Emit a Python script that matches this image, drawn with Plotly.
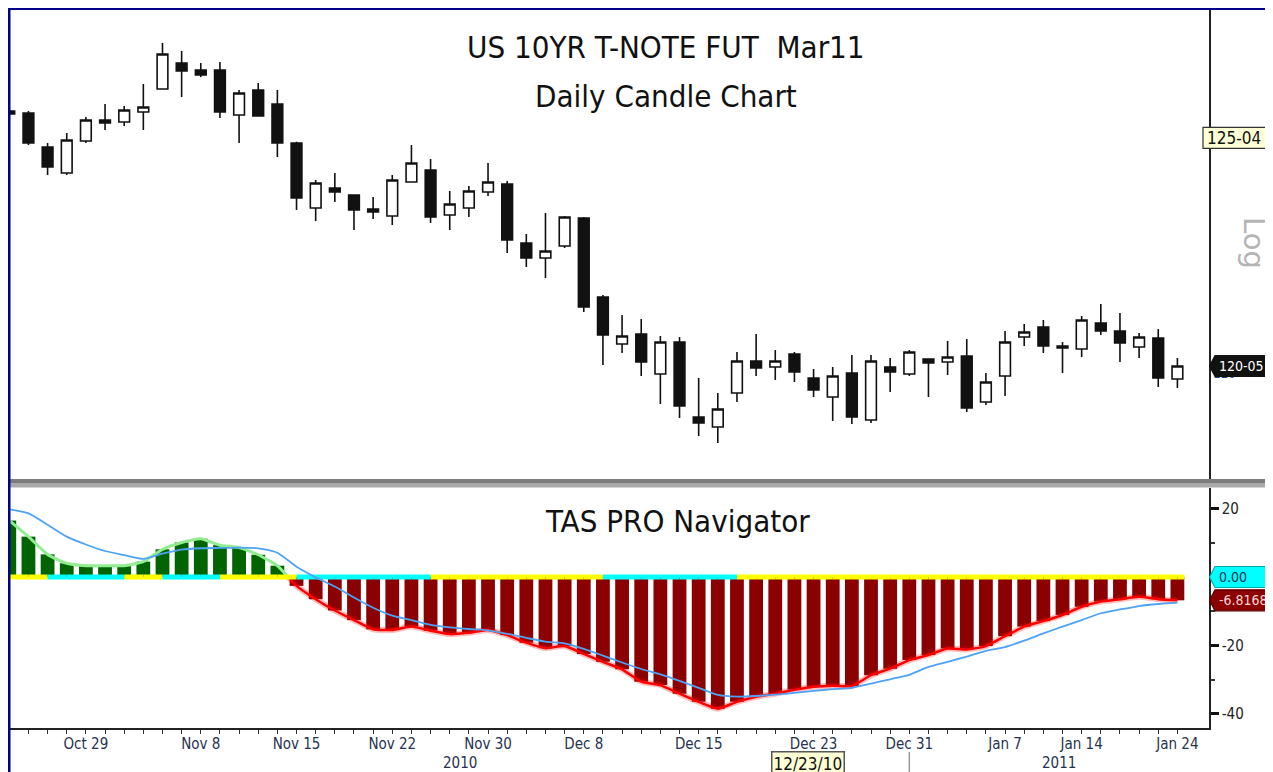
import plotly.graph_objects as go

# ---------------- data ----------------
open_ = [125.712, 125.668, 124.927, 124.361, 125.058, 125.516, 125.472, 125.690, 126.191, 126.758,
         126.605, 126.605, 125.625, 126.169, 125.864, 125.015, 123.598, 124.034, 123.882, 123.577,
         123.424, 124.165, 124.426, 123.446, 123.598, 123.947, 124.121, 122.836, 122.509, 122.771,
         123.381, 121.659, 120.635, 120.853, 119.982, 120.679, 119.045, 118.827, 119.568, 120.265,
         120.134, 120.418, 119.895, 119.481, 120.004, 118.980, 120.134, 119.982, 120.309, 120.243,
         120.374, 119.372, 119.938, 120.788, 121.006, 120.592, 120.527, 121.093, 120.919, 120.570,
         120.766, 119.873]
high = [125.777, 125.712, 125.015, 125.232, 125.581, 125.864, 125.821, 126.300, 127.193, 127.019,
        126.758, 126.779, 126.169, 126.322, 126.169, 125.040, 124.208, 124.361, 123.900, 123.838,
        124.317, 124.971, 124.666, 123.969, 124.078, 124.579, 124.187, 123.032, 123.490, 123.424,
        123.402, 121.703, 121.267, 121.180, 120.810, 120.788, 119.895, 119.568, 120.461, 120.853,
        120.505, 120.461, 120.091, 120.134, 120.396, 120.396, 120.330, 120.505, 120.320, 120.701,
        120.744, 120.004, 120.919, 121.071, 121.158, 120.679, 121.246, 121.507, 121.311, 120.875,
        120.962, 120.330]
low = [125.581, 124.971, 124.317, 124.317, 125.015, 125.298, 125.385, 125.298, 126.180, 126.017,
       126.452, 125.559, 125.015, 125.590, 124.710, 123.555, 123.315, 123.729, 123.119, 123.359,
       123.228, 124.150, 123.272, 123.119, 123.402, 123.860, 122.618, 122.313, 122.073, 122.727,
       121.333, 120.178, 120.439, 119.938, 119.328, 119.023, 118.631, 118.479, 119.372, 119.938,
       119.851, 119.808, 119.481, 118.958, 118.893, 118.914, 119.590, 119.938, 119.481, 119.960,
       119.154, 119.307, 119.503, 120.592, 120.439, 120.004, 120.352, 120.832, 120.243, 120.330,
       119.699, 119.677]
close = [125.646, 125.015, 124.492, 125.080, 125.516, 125.450, 125.734, 125.799, 126.954, 126.583,
         126.496, 125.690, 126.104, 125.603, 125.015, 123.816, 124.143, 123.947, 123.555, 123.511,
         124.208, 124.579, 123.402, 123.686, 123.969, 124.165, 122.901, 122.509, 122.662, 123.402,
         121.442, 120.832, 120.810, 120.243, 120.679, 119.285, 118.914, 119.219, 120.265, 120.113,
         120.265, 120.025, 119.633, 119.938, 119.045, 120.265, 120.025, 120.461, 120.222, 120.352,
         119.241, 119.808, 120.679, 120.897, 120.592, 120.548, 121.158, 120.919, 120.657, 120.788,
         119.895, 120.156]

navigator = [16.5, 11.8, 6.6, 4.0, 3.3, 3.3, 3.3, 4.5, 8.1, 10.1,
             11.2, 9.3, 8.6, 6.5, 3.3, -2.6, -6.5, -9.8, -12.6, -15.3,
             -15.5, -14.5, -15.7, -16.7, -16.3, -15.5, -17.0, -19.2, -20.8, -20.2,
             -22.5, -24.8, -27.0, -30.6, -31.6, -34.1, -36.5, -38.5, -36.5, -35.0,
             -34.1, -33.0, -32.1, -31.8, -31.9, -28.7, -26.8, -24.3, -22.8, -20.9,
             -21.2, -20.2, -17.3, -14.5, -12.9, -11.1, -8.7, -7.2, -6.5, -5.8,
             -6.5, -6.8168]
signal = [19.8, 18.6, 15.3, 11.8, 9.5, 7.6, 6.4, 5.3, 6.8, 8.0,
          8.4, 8.5, 8.6, 8.4, 7.1, 3.0, -0.1, -2.8, -6.0, -9.0,
          -11.3, -12.6, -14.0, -14.7, -15.2, -15.6, -16.6, -17.8, -18.9, -19.4,
          -21.0, -23.0, -25.0, -26.9, -28.5, -30.4, -32.4, -34.5, -35.0, -34.8,
          -34.4, -33.9, -33.3, -32.8, -32.4, -31.2, -29.9, -28.6, -26.3, -24.8,
          -23.3, -21.6, -20.5, -18.6, -16.5, -14.5, -12.6, -10.6, -9.5, -8.5,
          -7.9, -7.5]
# zero-line state per bar interval: Y = yellow, C = cyan
band_state = "YYCCCCYYCCCYYYYCCCCCCCYYYYYYYYYCCCCCCCYYYYYYYYYYYYYYYYYYYYYYYY"

tick_index = [4, 10, 15, 20, 25, 30, 36, 42, 47, 52, 56, 61]
tick_labels = ["Oct 29", "Nov 8", "Nov 15", "Nov 22", "Nov 30", "Dec 8",
               "Dec 15", "Dec 23", "Dec 31", "Jan 7", "Jan 14", "Jan 24"]
year_labels = ["2010", "2011"]
year_break_index = 47
cursor_index = 42
cursor_label = "12/23/10"
price_ticks = [120, 125]
nav_ticks = [20, -20, -40]
nav_minor = [10, 0, -10, -30]
last_price, last_price_text = 120.156, "120-05"
ref_price, ref_price_text = 125.125, "125-04"
zero_text = "0.00"
last_nav_text = "-6.8168"

title1 = "US 10YR T-NOTE FUT\u00a0\u00a0Mar11"
title2 = "Daily Candle Chart"
title3 = "TAS PRO Navigator"

# ---------------- geometry (page pixels; the page body adds an 8px offset) ----------------
OFF = 8
W, H = 1273, 772
PL, PR, PT, PB = 10, 1209, 10, 728        # plot area in page pixels
FIG_W, FIG_H = W - OFF, H - OFF
ML, MT = PL - OFF, PT - OFF
MR, MB = W - PR, H - PB
PW, PH = PR - PL, PB - PT


def pxx(px):
    return (px - PL) / PW


def pxy(py):
    return (PB - py) / PH


n = len(close)
idx = list(range(n))
x_range = [0.037, 62.65]
price_range = [117.694, 127.912]
nav_range = [-44.15, 26.02]
dom_top = [pxy(479), 1.0]
dom_bot = [0.0, pxy(488)]


def v2p(v, rng, dom):
    return dom[0] + (v - rng[0]) / (rng[1] - rng[0]) * (dom[1] - dom[0])


NARROW = "DejaVu Sans Condensed, Liberation Sans Narrow, Arial Narrow, sans-serif"

fig = go.Figure()

# candles
fig.add_trace(go.Candlestick(
    x=idx, open=open_, high=high, low=low, close=close,
    increasing=dict(line=dict(color="#111111", width=1.6), fillcolor="#ffffff"),
    decreasing=dict(line=dict(color="#111111", width=1.6), fillcolor="#111111"),
    whiskerwidth=0, xaxis="x", yaxis="y", hoverinfo="skip", showlegend=False))

# navigator bars
bar_colors = ["#006400" if v >= 0 else "#8B0000" for v in navigator]
fig.add_trace(go.Bar(x=idx, y=navigator, marker=dict(color=bar_colors, line=dict(width=0)),
                     width=0.72, xaxis="x", yaxis="y2", hoverinfo="skip", showlegend=False))

# histogram outline lines (green above zero, red below)
k = next(i for i in range(1, n) if navigator[i] < 0 <= navigator[i - 1])
xc = (k - 1) + navigator[k - 1] / (navigator[k - 1] - navigator[k])
gx = idx[:k] + [xc]
gy = navigator[:k] + [0]
rx = [xc] + idx[k:]
ry = [0] + navigator[k:]
fig.add_trace(go.Scatter(x=gx, y=gy, mode="lines", line=dict(color="#90EE90", width=3, shape="spline", smoothing=0.5),
                         xaxis="x", yaxis="y2", hoverinfo="skip", showlegend=False))
fig.add_trace(go.Scatter(x=rx, y=ry, mode="lines", line=dict(color="rgba(255,0,0,0.25)", width=6, shape="spline", smoothing=0.5),
                         xaxis="x", yaxis="y2", hoverinfo="skip", showlegend=False))
fig.add_trace(go.Scatter(x=rx, y=ry, mode="lines", line=dict(color="#FF0000", width=2.5, shape="spline", smoothing=0.5),
                         xaxis="x", yaxis="y2", hoverinfo="skip", showlegend=False))

# zero band
for state, col in (("Y", "#FFFF00"), ("C", "#00FFFF")):
    bx, by = [], []
    for i, s in enumerate(band_state):
        if s == state:
            bx += [i, min(i + 1, n - 1 + 0.36), None]
            by += [0, 0, None]
    fig.add_trace(go.Scatter(x=bx, y=by, mode="lines", line=dict(color=col, width=5),
                             xaxis="x", yaxis="y2", hoverinfo="skip", showlegend=False))

# signal line
fig.add_trace(go.Scatter(x=idx, y=signal, mode="lines", line=dict(color="#4DA3F5", width=1.8, shape="spline", smoothing=0.6),
                         xaxis="x", yaxis="y2", hoverinfo="skip", showlegend=False))

fig.update_layout(
    width=FIG_W, height=FIG_H, margin=dict(l=ML, r=MR, t=MT, b=MB, autoexpand=False),
    paper_bgcolor="white", plot_bgcolor="white", showlegend=False, hovermode=False,
    boxgap=0.2,
    xaxis=dict(domain=[0, 1], anchor="y2", range=x_range, rangeslider=dict(visible=False),
               tickmode="array", tickvals=tick_index, ticktext=tick_labels,
               ticks="outside", ticklen=4, tickwidth=1, tickcolor="#333", ticklabelstandoff=-3,
               tickfont=dict(family=NARROW, size=15, color="#26324f"),
               showline=True, linecolor="#222", linewidth=1.5, showgrid=False, zeroline=False,
               minor=dict(tickmode="array", tickvals=idx, ticks="outside", ticklen=4, tickwidth=1,
                          tickcolor="#333", showgrid=False)),
    yaxis=dict(domain=dom_top, anchor="x", side="right", range=price_range,
               tickmode="array", tickvals=price_ticks, ticktext=[str(v) for v in price_ticks],
               ticks="", tickfont=dict(family=NARROW, size=13, color="#1f3a93"),
               showline=True, linecolor="#222", linewidth=1.5, showgrid=False, zeroline=False),
    yaxis2=dict(domain=dom_bot, anchor="x", side="right", range=nav_range,
                tickmode="array", tickvals=nav_ticks, ticktext=[str(v) for v in nav_ticks],
                ticks="outside", ticklen=8, tickwidth=3, tickcolor="#111",
                tickfont=dict(family=NARROW, size=15, color="#222"),
                showline=True, linecolor="#222", linewidth=1.5, showgrid=False, zeroline=False,
                minor=dict(tickmode="array", tickvals=nav_minor, ticks="outside", ticklen=4,
                           tickwidth=1.5, tickcolor="#333", showgrid=False)),
)

shapes = []
# gray separator between panels
shapes.append(dict(type="rect", xref="paper", yref="paper", x0=0, x1=pxx(W + 2), y0=pxy(483), y1=pxy(479),
                   fillcolor="#7d7d7d", line=dict(width=0), layer="above"))
shapes.append(dict(type="rect", xref="paper", yref="paper", x0=0, x1=pxx(W + 2), y0=pxy(487.5), y1=pxy(483),
                   fillcolor="#a9a9a9", line=dict(width=0), layer="above"))
# navy frame (left and top)
shapes.append(dict(type="line", xref="paper", yref="paper", x0=pxx(9), x1=pxx(9), y0=pxy(H), y1=pxy(OFF),
                   line=dict(color="#00008B", width=3), layer="above"))
shapes.append(dict(type="line", xref="paper", yref="paper", x0=pxx(8), x1=pxx(W + 2), y0=pxy(9), y1=pxy(9),
                   line=dict(color="#00008B", width=2), layer="above"))
# year separator
shapes.append(dict(type="line", xref="x", yref="paper", x0=year_break_index, x1=year_break_index,
                   y0=pxy(H), y1=pxy(752), line=dict(color="#999", width=1.5)))
fig.update_layout(shapes=shapes)


def tag(value, rng, dom, text, fill, txtcolor, border, arrow=True, left_px=1215, size=14):
    yc = v2p(value, rng, dom)
    hh = 10.5 / PH
    xl, xr, xt = pxx(left_px), pxx(W + 2), pxx(1209.5)
    if arrow:
        path = (f"M {xt},{yc} L {xl},{yc + hh} L {xr},{yc + hh} L {xr},{yc - hh} "
                f"L {xl},{yc - hh} Z")
    else:
        path = (f"M {xl},{yc - hh} L {xl},{yc + hh} L {xr},{yc + hh} L {xr},{yc - hh} Z")
    fig.add_shape(type="path", path=path, xref="paper", yref="paper", fillcolor=fill,
                  line=dict(color=border, width=1.2), layer="above")
    fig.add_annotation(x=pxx(left_px + 2), y=yc, xref="paper", yref="paper", xanchor="left",
                       yanchor="middle", text=text, showarrow=False,
                       font=dict(family=NARROW, size=size, color=txtcolor))


tag(ref_price, price_range, dom_top, ref_price_text, "#FFFFD6", "#111", "#333", arrow=False, left_px=1203, size=17)
tag(last_price, price_range, dom_top, last_price_text, "#111111", "#ffffff", "#111", arrow=True, size=14)
tag(0, nav_range, dom_bot, zero_text, "#00FFFF", "#0a2a4a", "#0aa", arrow=True, size=14)
tag(navigator[-1], nav_range, dom_bot, last_nav_text, "#8B0000", "#f3d6d6", "#5a0000", arrow=True, size=14)

# titles
for txt, yy, xx in ((title1, 47, 666), (title2, 96, 666), (title3, 521, 677)):
    fig.add_annotation(x=pxx(xx), y=pxy(yy), xref="paper", yref="paper", text=txt, showarrow=False,
                       xanchor="center", yanchor="middle", font=dict(family=NARROW, size=31, color="#111"))

# Log label
fig.add_annotation(x=pxx(1254), y=pxy(243), xref="paper", yref="paper", text="Log", showarrow=False,
                   xanchor="center", yanchor="middle", textangle=90,
                   font=dict(family="DejaVu Sans, sans-serif", size=29, color="#b4b4b4"))

# year labels
for txt, xpos in ((year_labels[0], (x_range[0] + year_break_index) / 2),
                  (year_labels[1], (year_break_index + x_range[1]) / 2)):
    fig.add_annotation(x=xpos, y=pxy(763), xref="x", yref="paper", xanchor="center", yanchor="middle",
                       text=txt, showarrow=False, font=dict(family=NARROW, size=15, color="#26324f"))
# cursor date box
fig.add_annotation(x=cursor_index, y=pxy(763), xref="x", yref="paper", xshift=-6,
                   xanchor="center", yanchor="middle",
                   text=cursor_label, showarrow=False, bgcolor="#FFFFD6", bordercolor="#555",
                   borderwidth=1.5, borderpad=1, font=dict(family=NARROW, size=17, color="#111"))

fig.write_html("out.html")
